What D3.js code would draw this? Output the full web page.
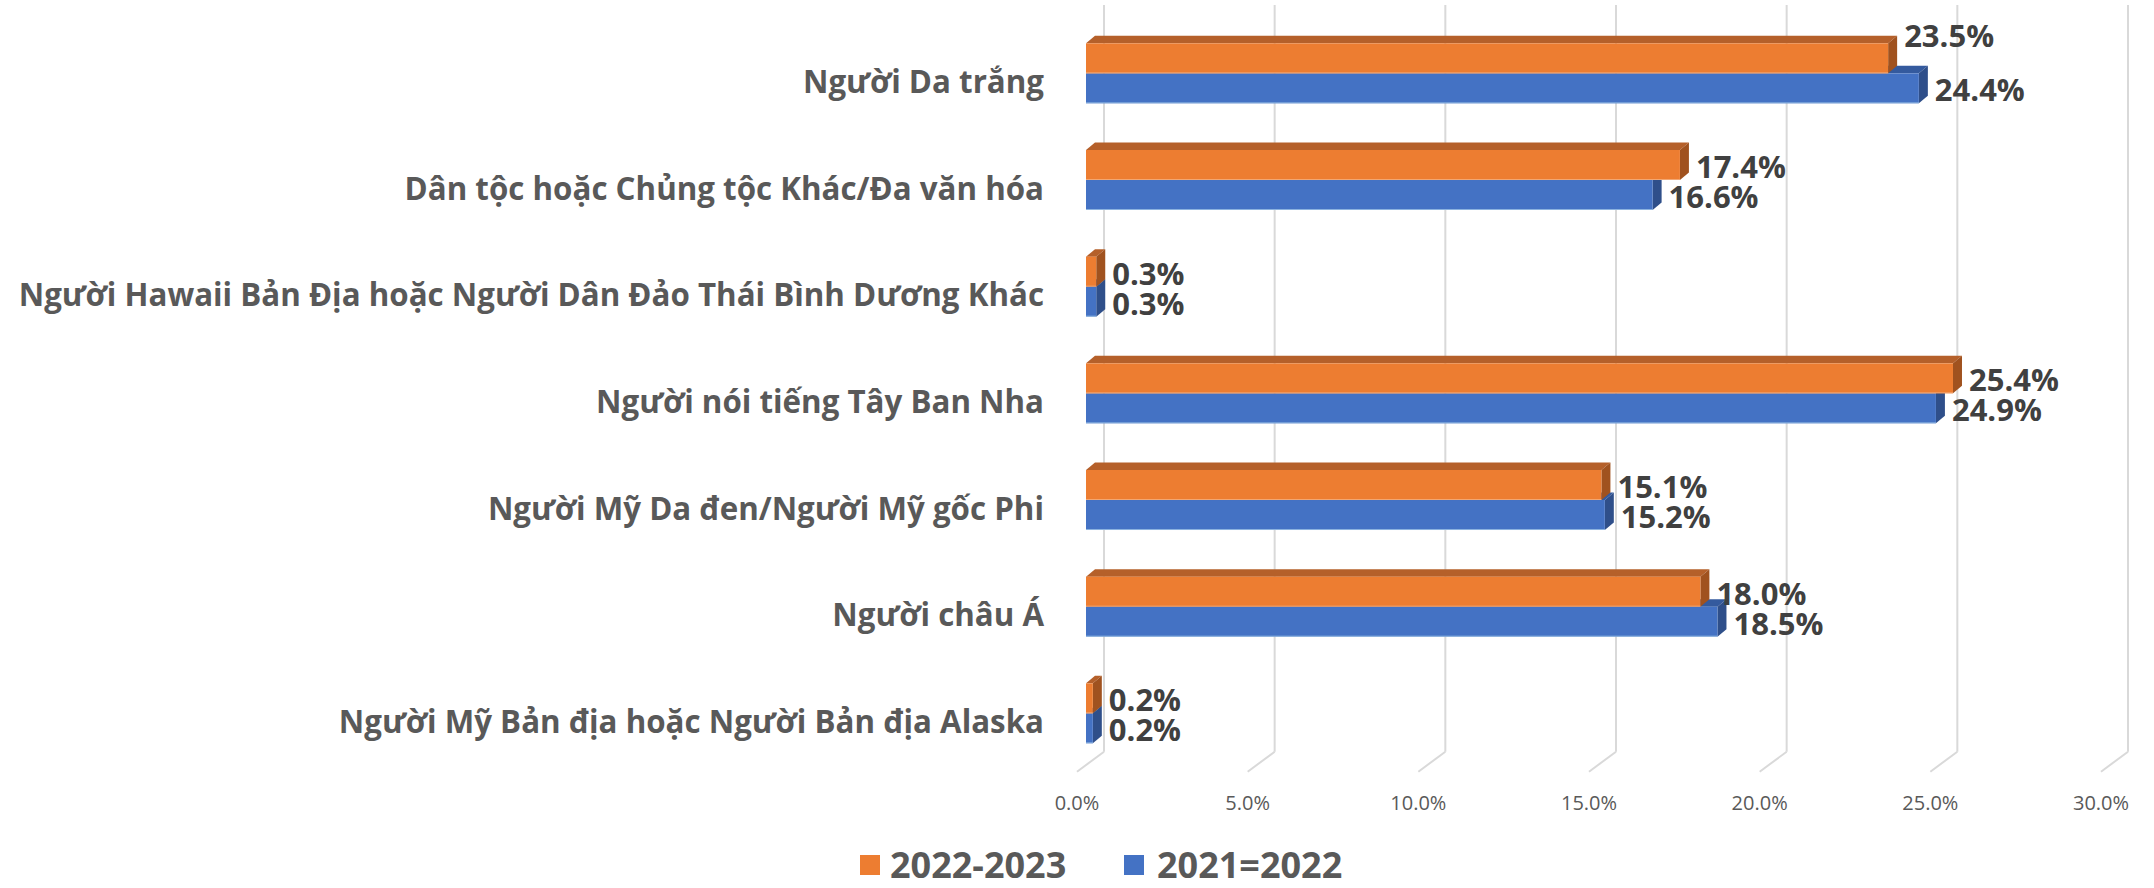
<!DOCTYPE html>
<html>
<head>
<meta charset="utf-8">
<script src="https://cdn.jsdelivr.net/npm/d3@7"></script>
<style>
  html, body { margin: 0; padding: 0; background: #ffffff; }
  svg { display: block; }
</style>
</head>
<body>
<div id="chart"></div>
<script>
// ---------------- data ----------------
const categories = [
  "Người Da trắng",
  "Dân tộc hoặc Chủng tộc Khác/Đa văn hóa",
  "Người Hawaii Bản Địa hoặc Người Dân Đảo Thái Bình Dương Khác",
  "Người nói tiếng Tây Ban Nha",
  "Người Mỹ Da đen/Người Mỹ gốc Phi",
  "Người châu Á",
  "Người Mỹ Bản địa hoặc Người Bản địa Alaska"
];
const seriesNames = ["2022-2023", "2021=2022"];
const values2022_2023 = [23.5, 17.4, 0.3, 25.4, 15.1, 18.0, 0.2];
const values2021_2022 = [24.4, 16.6, 0.3, 24.9, 15.2, 18.5, 0.2];
const tickValues = [0, 5, 10, 15, 20, 25, 30];
const tickLabels = ["0.0%", "5.0%", "10.0%", "15.0%", "20.0%", "25.0%", "30.0%"];

// ---------------- layout / style ----------------
const W = 2154, H = 888;
const colors = {
  "2022-2023": { front: "#ED7D31", top: "#B5602A", side: "#A0521F", edge: "#F4B183" },
  "2021=2022": { front: "#4472C4", top: "#345A9E", side: "#2F4F8A", edge: "#9DC3E6" }
};
const depth = { dx: 9, dy: -7.5 };          // bar depth (projected)
const wallOff = { dx: 18, dy: -15 };        // back wall offset from bar front plane
const floorBackY = 751.7, floorFrontDx = -27, floorFrontDy = 20;
const labelNudge = { "Người Da trắng|2022-2023": -24 }; // manual label placement in reference

const svg = d3.select("#chart").append("svg")
  .attr("width", W).attr("height", H)
  .attr("viewBox", `0 0 ${W} ${H}`);

const x = d3.scaleLinear().domain([0, 30]).range([1086, 2110]);
const y = d3.scaleBand().domain(categories).range([20, 766.67]).padding(0);
const ys = d3.scaleBand().domain(seriesNames).range([-30, 30]).padding(0);

const valuesBy = { "2022-2023": values2022_2023, "2021=2022": values2021_2022 };
const rows = categories.map((c, i) => ({ cat: c, i }));

// ---------------- back wall gridlines + floor ----------------
const grid = svg.append("g");
const wallTop = y.range()[0] + wallOff.dy;
tickValues.forEach(t => {
  const xb = x(t) + wallOff.dx;
  grid.append("line")
    .attr("x1", xb).attr("x2", xb)
    .attr("y1", wallTop).attr("y2", floorBackY)
    .attr("stroke", "#D9D9D9").attr("stroke-width", 2);
  grid.append("line")
    .attr("x1", xb).attr("y1", floorBackY)
    .attr("x2", xb + floorFrontDx).attr("y2", floorBackY + floorFrontDy)
    .attr("stroke", "#D9D9D9").attr("stroke-width", 2);
});

// tick labels
svg.append("g").selectAll("text").data(tickValues).join("text")
  .attr("x", d => x(d) + wallOff.dx + floorFrontDx)
  .attr("y", 802)
  .attr("text-anchor", "middle")
  .attr("dominant-baseline", "central")
  .attr("font-family", "'Open Sans', sans-serif")
  .attr("font-size", 20)
  .attr("fill", "#595959")
  .text((d, i) => tickLabels[i]);

// ---------------- bars (3D boxes) ----------------
const barsG = svg.append("g");
const drawOrder = ["2021=2022", "2022-2023"]; // lower series first so upper covers its top face
rows.forEach(r => {
  const cy = y(r.cat) + y.bandwidth() / 2;
  drawOrder.forEach(s => {
    const v = valuesBy[s][r.i];
    const x0 = x(0), x1 = x(v);
    const y0 = cy + ys(s), y1 = y0 + ys.bandwidth();
    const c = colors[s];
    const g = barsG.append("g");
    // top face
    g.append("path")
      .attr("d", `M${x0},${y0} L${x0 + depth.dx},${y0 + depth.dy} L${x1 + depth.dx},${y0 + depth.dy} L${x1},${y0} Z`)
      .attr("fill", c.top);
    // side face
    g.append("path")
      .attr("d", `M${x1},${y0} L${x1 + depth.dx},${y0 + depth.dy} L${x1 + depth.dx},${y1 + depth.dy} L${x1},${y1} Z`)
      .attr("fill", c.side);
    // front face
    g.append("rect")
      .attr("x", x0).attr("y", y0)
      .attr("width", Math.max(0.5, x1 - x0)).attr("height", y1 - y0)
      .attr("fill", c.front);
    g.append("line")
      .attr("x1", x0).attr("x2", x1).attr("y1", y1 - 0.5).attr("y2", y1 - 0.5)
      .attr("stroke", c.edge).attr("stroke-width", 1).attr("opacity", 0.8);
  });
});

// value labels
const labG = svg.append("g");
rows.forEach(r => {
  const cy = y(r.cat) + y.bandwidth() / 2;
  seriesNames.forEach(s => {
    const v = valuesBy[s][r.i];
    const yc = cy + ys(s) + ys.bandwidth() / 2 + 1 + (labelNudge[r.cat + "|" + s] || 0);
    labG.append("text")
      .attr("x", x(v) + depth.dx + 7)
      .attr("y", yc)
      .attr("dominant-baseline", "central")
      .attr("font-family", "'Open Sans', sans-serif")
      .attr("font-weight", 700)
      .attr("font-size", 31)
      .attr("fill", "#404040")
      .text(v.toFixed(1) + "%");
  });
});

// category labels
svg.append("g").selectAll("text").data(categories).join("text")
  .attr("x", 1044)
  .attr("y", d => y(d) + y.bandwidth() / 2 + 7.5)
  .attr("text-anchor", "end")
  .attr("dominant-baseline", "central")
  .attr("font-family", "'Open Sans', sans-serif")
  .attr("font-weight", 700)
  .attr("font-size", 31.3)
  .attr("fill", "#595959")
  .text(d => d);

// ---------------- legend ----------------
const legend = svg.append("g");
const legendItems = [
  { name: "2022-2023", sx: 860, tx: 890 },
  { name: "2021=2022", sx: 1124, tx: 1157 }
];
legendItems.forEach(it => {
  legend.append("rect")
    .attr("x", it.sx).attr("y", 855).attr("width", 20).attr("height", 20)
    .attr("fill", colors[it.name].front);
  legend.append("text")
    .attr("x", it.tx).attr("y", 864)
    .attr("dominant-baseline", "central")
    .attr("font-family", "'Open Sans', sans-serif")
    .attr("font-weight", 700)
    .attr("font-size", 36)
    .attr("fill", "#595959")
    .text(it.name);
});
</script>
</body>
</html>
